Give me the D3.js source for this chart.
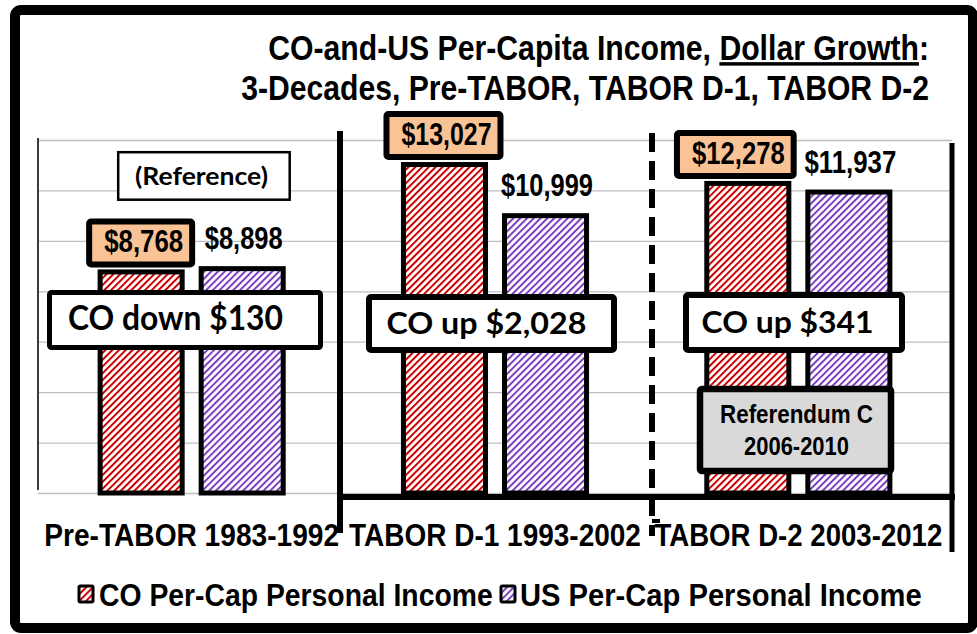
<!DOCTYPE html>
<html><head><meta charset="utf-8">
<script src="https://cdn.jsdelivr.net/npm/d3@7"></script>
<style>html,body{margin:0;padding:0;background:#fff;} svg{display:block;}</style>
</head><body>
<svg id="chart" width="977" height="634"></svg>
<script>
// ---------- data ----------
const categories = ["Pre-TABOR 1983-1992", "TABOR D-1 1993-2002", "TABOR D-2 2003-2012"];
const seriesKeys = ["CO", "US"];
const seriesNames = ["CO Per-Cap Personal Income", "US Per-Cap Personal Income"];
const coGrowth = [8768, 13027, 12278];
const usGrowth = [8898, 10999, 11937];
const gapLabels = ["CO down $130", "CO up $2,028", "CO up $341"];
const yTicks = [0, 2000, 4000, 6000, 8000, 10000, 12000, 14000];
const titleLine1 = ["CO-and-US Per-Capita Income, ", "Dollar Growth", ":"];
const titleLine2 = "3-Decades, Pre-TABOR, TABOR D-1, TABOR D-2";
const noteReference = "(Reference)";
const noteReferendum = ["Referendum C", "2006-2010"];

// ---------- setup ----------
const svg = d3.select("#chart");
const ARIAL = "'Liberation Sans', Arial, Helvetica, sans-serif";
const CAL = "Lato, 'Open Sans', sans-serif";
const RED = "#CC0000", PURPLE = "#7B3FBF", PEACH = "#FAC396";

const defs = svg.append("defs");
function hatch(id, color) {
  const p = defs.append("pattern").attr("id", id).attr("patternUnits", "userSpaceOnUse")
    .attr("width", 4.8).attr("height", 4.8).attr("patternTransform", "rotate(45)");
  p.append("rect").attr("width", 4.8).attr("height", 4.8).attr("fill", "#fff");
  p.append("rect").attr("width", 2).attr("height", 4.8).attr("fill", color);
}
hatch("hatchCO", RED);
hatch("hatchUS", PURPLE);
const fills = { CO: "url(#hatchCO)", US: "url(#hatchUS)" };

function fitText(parent, str, x, y, size, width, family, anchor) {
  const t = parent.append("text")
    .attr("font-family", family || ARIAL).attr("font-weight", "bold")
    .attr("font-size", size).attr("text-anchor", anchor || "middle").text(str);
  const nat = t.node().getComputedTextLength();
  const sx = width ? width / nat : 0.86;
  t.attr("transform", `translate(${x},${y}) scale(${sx},1)`);
  return t;
}

// outer frame
svg.append("rect").attr("x", 15).attr("y", 10).attr("width", 958).attr("height", 618)
  .attr("rx", 6).attr("fill", "#fff").attr("stroke", "#000").attr("stroke-width", 10);

// scales
const x0 = d3.scaleBand().domain(categories).range([40, 950]);
const x1 = d3.scaleBand().domain(seriesKeys).range([0, x0.bandwidth()])
  .paddingInner(0.188).paddingOuter(0.595);
const y = d3.scaleLinear().domain([0, 14000]).range([493, 140]);

// gridlines
svg.append("g").attr("transform", "translate(38,0)")
  .call(d3.axisLeft(y).tickValues(yTicks).tickSize(-(952 - 38)).tickFormat(""))
  .call(g => g.select(".domain").remove())
  .call(g => g.selectAll("line").attr("stroke", "#BFBFBF").attr("stroke-width", 1.3));
// left axis line
svg.append("line").attr("x1", 38).attr("x2", 38).attr("y1", y(14000) - 2).attr("y2", y(0) - 3)
  .attr("stroke", "#3a3a3a").attr("stroke-width", 2);

// bars
const rows = categories.map((c, i) => ({ c, i, CO: coGrowth[i], US: usGrowth[i] }));
const groups = svg.append("g").selectAll("g").data(rows).join("g")
  .attr("transform", d => `translate(${x0(d.c)},0)`);
groups.selectAll("rect").data(d => seriesKeys.map(k => ({ k, v: d[k] }))).join("rect")
  .attr("x", d => x1(d.k)).attr("y", d => y(d.v))
  .attr("width", x1.bandwidth()).attr("height", d => y(0) - y(d.v))
  .attr("fill", d => fills[d.k]).attr("stroke", "#000").attr("stroke-width", 5);

// hand-drawn separators
const deco = svg.append("g").attr("fill", "none").attr("stroke", "#000");
deco.append("path").attr("d", "M340,131 V533").attr("stroke-width", 6);
deco.append("path").attr("d", "M340,497 H955").attr("stroke-width", 6);
deco.append("path").attr("d", "M952,143 V552").attr("stroke-width", 5);
deco.append("path").attr("d", "M652,133 V536").attr("stroke-width", 6).attr("stroke-dasharray", "19,9");
deco.append("path").attr("d", "M652,521 H660").attr("stroke-width", 4);

// CO value boxes
const fmt = d3.format("$,");
const coBoxShift = [-0.5, -1, -12.5];
const coTextW = [79, 90, 92.7];
rows.forEach((d, i) => {
  const cx = x0(d.c) + x1("CO") + x1.bandwidth() / 2 + coBoxShift[i];
  const yv = y(d.CO);
  const g = svg.append("g");
  const rect = g.append("rect");
  fitText(g, fmt(d.CO), cx + 3, yv - 19.5, 31, coTextW[i]);
  const bw = coTextW[i] + 24;
  rect.attr("x", cx - bw / 2).attr("y", yv - 50.5).attr("width", bw).attr("height", 43)
    .attr("fill", PEACH).attr("stroke", "#000").attr("stroke-width", 6).attr("rx", 2);
});
// US value labels
const usTextW = [78, 92, 92];
rows.forEach((d, i) => {
  const cx = x0(d.c) + x1("US") + x1.bandwidth() / 2 + 1.5;
  fitText(svg, fmt(d.US), cx, y(d.US) - 19.5, 31, usTextW[i]);
});

// gap annotation boxes
const gapBoxes = [
  { x: 49.5, y: 292.5, w: 271, h: 55, sw: 5, tx: 175.5, ty: 330, tw: 215, fs: 34 },
  { x: 369, y: 297, w: 245, h: 53, sw: 6, tx: 486.4, ty: 334, tw: 200, fs: 31 },
  { x: 686, y: 295, w: 216, h: 55, sw: 6, tx: 787.5, ty: 332.7, tw: 172, fs: 31 }
];
gapLabels.forEach((lab, i) => {
  const b = gapBoxes[i];
  const g = svg.append("g");
  g.append("rect").attr("x", b.x).attr("y", b.y).attr("width", b.w).attr("height", b.h)
    .attr("fill", "#fff").attr("stroke", "#000").attr("stroke-width", b.sw).attr("rx", 2);
  fitText(g, lab, b.tx, b.ty, b.fs, b.tw, CAL);
});

// (Reference) note
svg.append("rect").attr("x", 118.2).attr("y", 152.2).attr("width", 171.5).attr("height", 47.5)
  .attr("fill", "#fff").attr("stroke", "#000").attr("stroke-width", 2.5);
fitText(svg, noteReference, 201.5, 185, 25, 133, CAL);

// Referendum C note
svg.append("rect").attr("x", 700).attr("y", 389).attr("width", 191).attr("height", 82)
  .attr("fill", "#D9D9D9").attr("stroke", "#000").attr("stroke-width", 6.5).attr("rx", 2);
fitText(svg, noteReferendum[0], 796.5, 423, 26, 153);
fitText(svg, noteReferendum[1], 796.5, 455, 26, 105);

// category labels
const catW = [295, 292, 288];
categories.forEach((c, i) => {
  fitText(svg, c, x0(c) + x0.bandwidth() / 2, 546, 32, catW[i]);
});

// title
function titleText(y, parts, width) {
  const t = svg.append("text").attr("font-family", ARIAL).attr("font-weight", "bold")
    .attr("font-size", 35).attr("text-anchor", "end");
  parts.forEach((p, i) => {
    const s = t.append("tspan").text(p);
    if (parts.length === 3 && i === 1) s.attr("text-decoration", "underline");
  });
  const nat = t.node().getComputedTextLength();
  t.attr("transform", `translate(929,${y}) scale(${width / nat},1)`);
}
titleText(60, titleLine1, 661);
titleText(100, [titleLine2], 688);

// legend
const legend = [
  { key: "CO", sx: 79, tx: 99, tw: 394 },
  { key: "US", sx: 501, tx: 520, tw: 402 }
];
legend.forEach((L, i) => {
  svg.append("rect").attr("x", L.sx).attr("y", 586).attr("width", 14).attr("height", 16)
    .attr("fill", fills[L.key]).attr("stroke", "#000").attr("stroke-width", 3).attr("rx", 1.5);
  fitText(svg, seriesNames[i], L.tx, 606, 31, L.tw, ARIAL, "start");
});
</script>
</body></html>
